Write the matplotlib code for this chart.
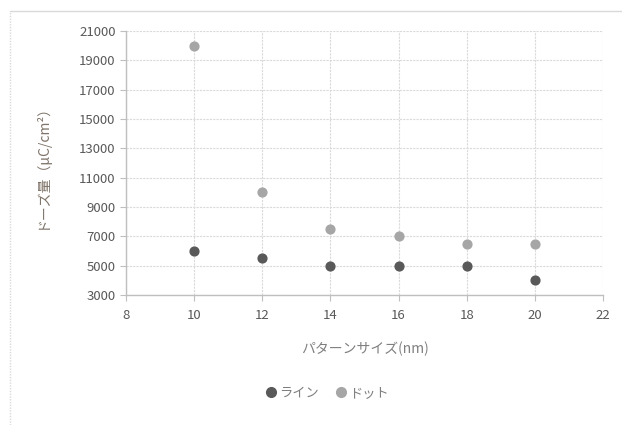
import matplotlib
matplotlib.use("Agg")
from matplotlib import pyplot as plt
from matplotlib.lines import Line2D

plt.rcParams['font.family'] = ['Noto Sans CJK JP', 'DejaVu Sans']

# data
x_size = [10, 12, 14, 16, 18, 20]
line_dose = [6000, 5500, 5000, 5000, 5000, 4000]
dot_dose = [20000, 10000, 7500, 7000, 6500, 6500]

x_ticks = [8, 10, 12, 14, 16, 18, 20, 22]
y_ticks = [3000, 5000, 7000, 9000, 11000, 13000, 15000, 17000, 19000, 21000]

fig = plt.figure(figsize=(6.22, 4.25), dpi=100)
ax = fig.add_axes([0.2026, 0.3059, 0.7669, 0.6211])

ax.scatter(x_size, line_dose, s=40, color='#595959', zorder=3, label='ライン')
ax.scatter(x_size, dot_dose, s=40, color='#a6a6a6', zorder=3, label='ドット')

ax.set_xlim(8, 22)
ax.set_ylim(3000, 21000)
ax.set_xticks(x_ticks)
ax.set_yticks(y_ticks)
ax.grid(True, color='#dadada', linestyle=(0, (2, 1)), linewidth=0.8)
ax.set_axisbelow(True)

for s in ['top', 'right']:
    ax.spines[s].set_visible(False)
for s in ['left', 'bottom']:
    ax.spines[s].set_color('#bfbfbf')
    ax.spines[s].set_linewidth(1.0)

ax.tick_params(colors='#595959', labelsize=9.5, length=4, width=0.8)
ax.tick_params(axis='both', color='#bfbfbf')
ax.tick_params(axis='x', pad=6)

ax.set_ylabel('ドーズ量（μC/cm²）', color='#7f7469', fontsize=10, labelpad=22)
ax.set_xlabel('パターンサイズ(nm)', color='#7f7f7f', fontsize=10, labelpad=14)

handles = [Line2D([], [], marker='o', linestyle='', color='#595959', markersize=7),
           Line2D([], [], marker='o', linestyle='', color='#a6a6a6', markersize=7)]
fig.legend(handles, ['ライン', 'ドット'], loc='center', bbox_to_anchor=(0.525, 0.075),
           ncol=2, frameon=False, fontsize=9.5, labelcolor='#7f7f7f',
           handletextpad=0.1, columnspacing=1.2, handlelength=1.0)

# outer chart frame
fig.add_artist(Line2D([10 / 622, 1], [1 - 11 / 425, 1 - 11 / 425], color='#d9d9d9', linewidth=1))
fig.add_artist(Line2D([10 / 622, 10 / 622], [0, 1 - 11 / 425], color='#d9d9d9', linewidth=1,
                      linestyle=(0, (1, 1))))

fig.savefig('out.png', dpi=100)
